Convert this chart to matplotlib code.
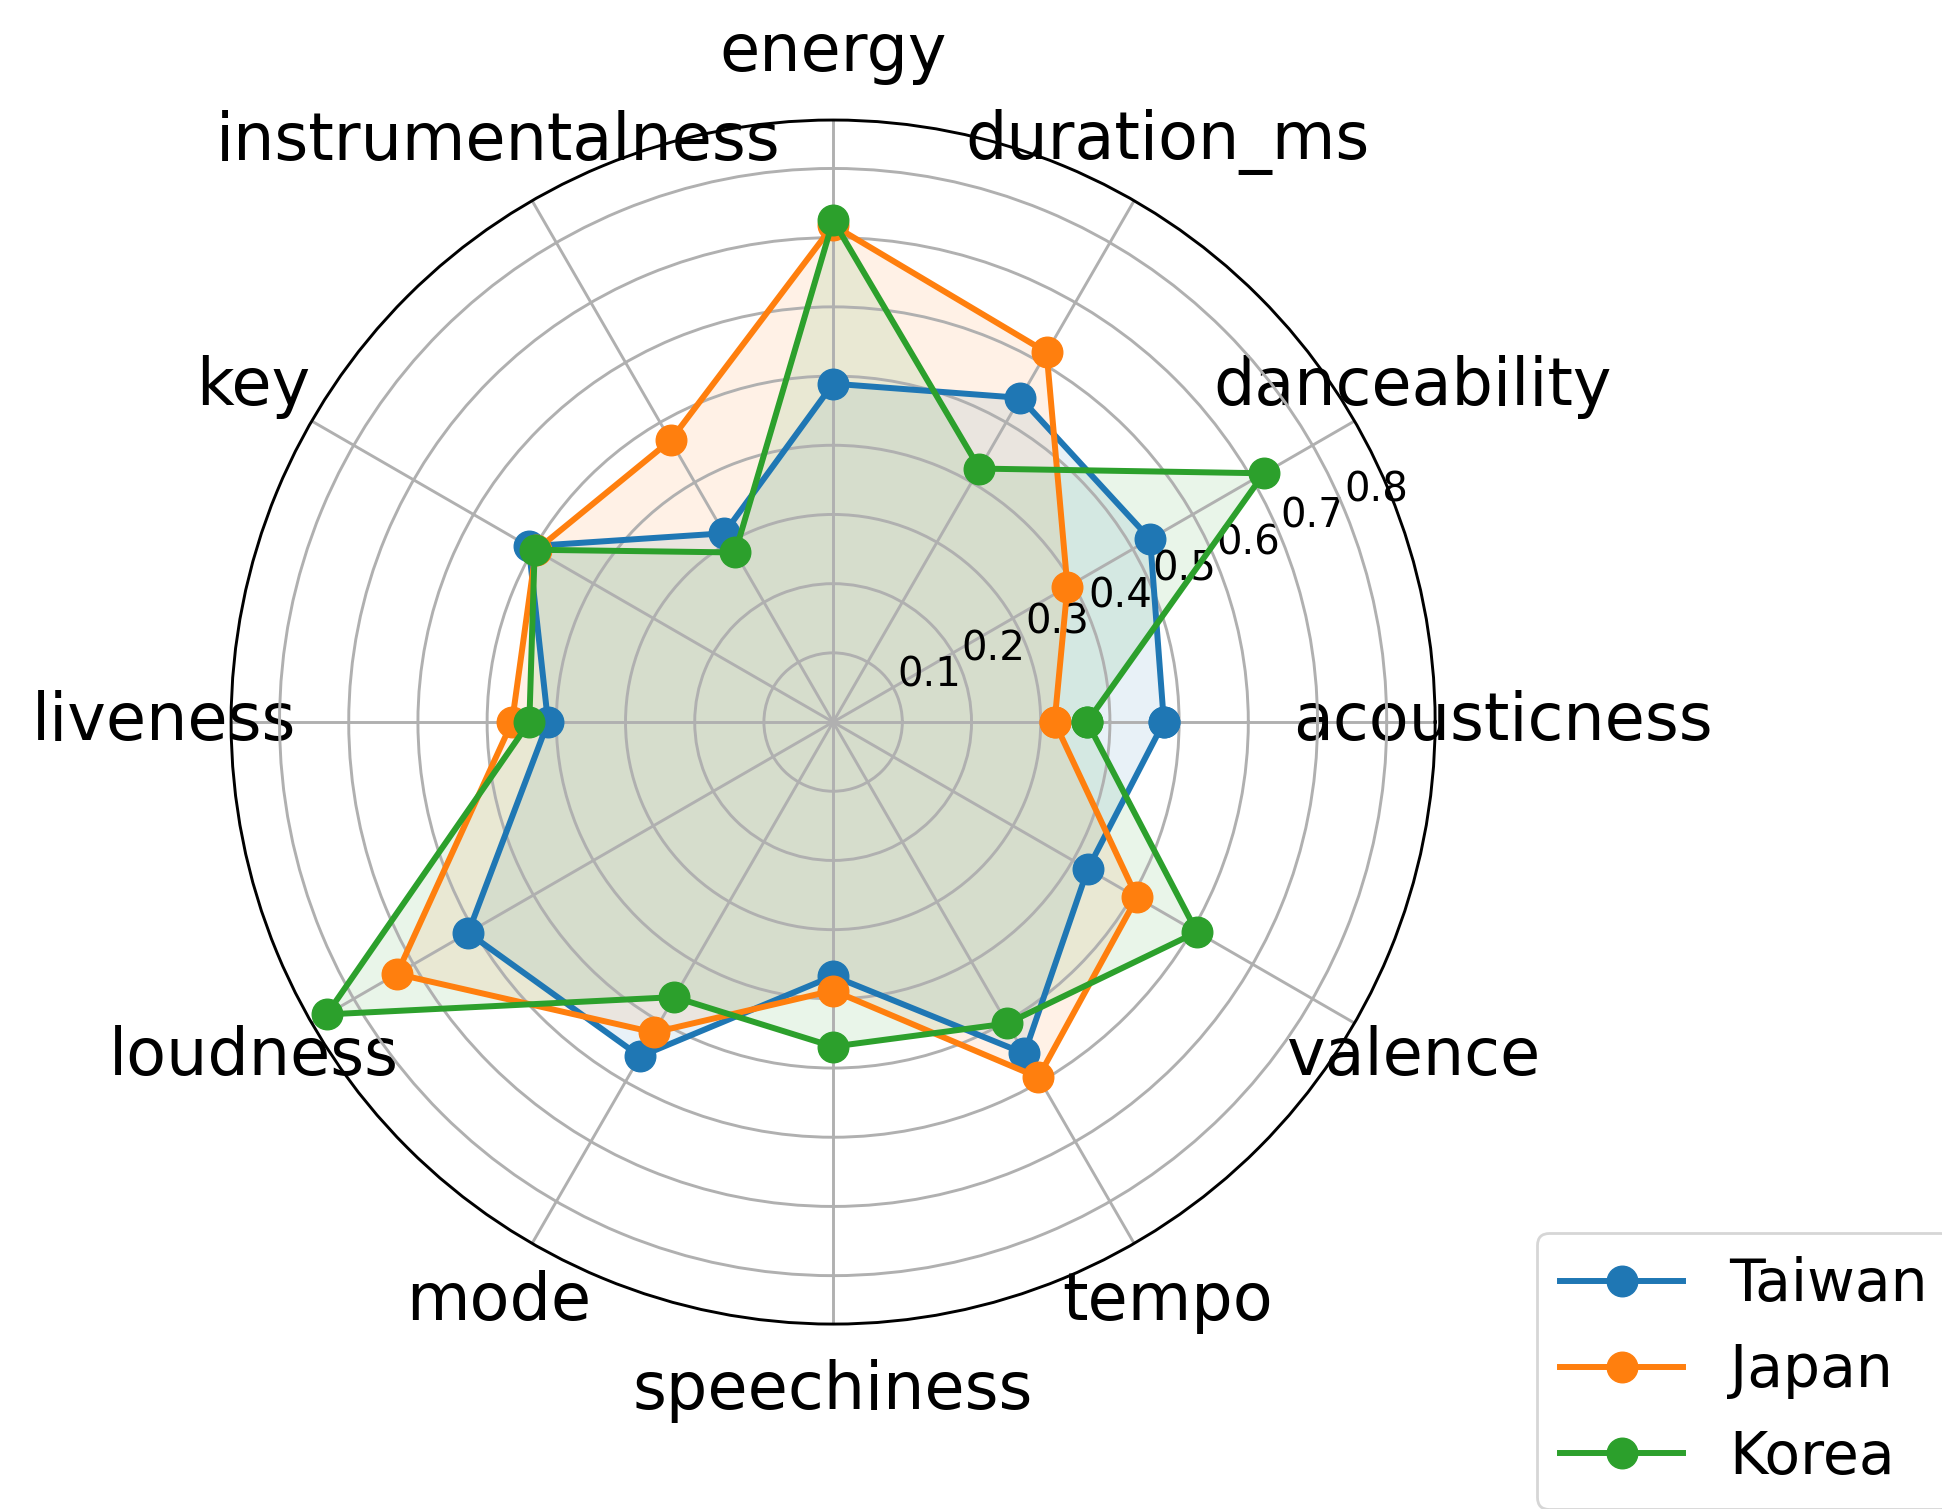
import numpy as np
import matplotlib
matplotlib.use("Agg")
import matplotlib.pyplot as plt

categories = ["acousticness", "danceability", "duration_ms", "energy",
              "instrumentalness", "key", "liveness", "loudness", "mode",
              "speechiness", "tempo", "valence"]
taiwan = [0.478, 0.529, 0.541, 0.489, 0.315, 0.508, 0.412, 0.609, 0.558, 0.367, 0.553, 0.425]
japan  = [0.320, 0.391, 0.617, 0.718, 0.470, 0.496, 0.464, 0.728, 0.518, 0.388, 0.593, 0.507]
korea  = [0.367, 0.719, 0.423, 0.725, 0.283, 0.498, 0.439, 0.845, 0.459, 0.469, 0.503, 0.607]
series_names = ["Taiwan", "Japan", "Korea"]
rticks = [0.1, 0.2, 0.3, 0.4, 0.5, 0.6, 0.7, 0.8]
rtick_labels = ["0.1", "0.2", "0.3", "0.4", "0.5", "0.6", "0.7", "0.8"]

fig = plt.figure(figsize=(19.42, 15.09), dpi=100)
ax = fig.add_axes([0.119, 0.1225, 0.62, 0.798], projection="polar")

n = len(categories)
angles = np.linspace(0, 2 * np.pi, n, endpoint=False)
closed_angles = np.concatenate([angles, angles[:1]])

for name, vals in zip(series_names, [taiwan, japan, korea]):
    v = np.concatenate([vals, vals[:1]])
    ax.plot(closed_angles, v, "o-", linewidth=4.3, markersize=22, label=name)
    ax.fill(closed_angles, v, alpha=0.1)

ax.set_thetagrids(np.degrees(angles), categories, fontsize=47)
ax.tick_params(axis="x", pad=38)
ax.set_rgrids(rticks, rtick_labels, fontsize=29)
ax.set_ylim(0, 0.87)
ax.grid(True, color="#b0b0b0", linewidth=2.1)
ax.spines["polar"].set_linewidth(2.1)

leg = fig.legend(loc="upper left", bbox_to_anchor=(0.7915, 0.183),
                 bbox_transform=fig.transFigure, borderaxespad=0,
                 fontsize=42, handlelength=2.1)
leg.get_frame().set_linewidth(2.0)

fig.savefig("out.png", dpi=100)
